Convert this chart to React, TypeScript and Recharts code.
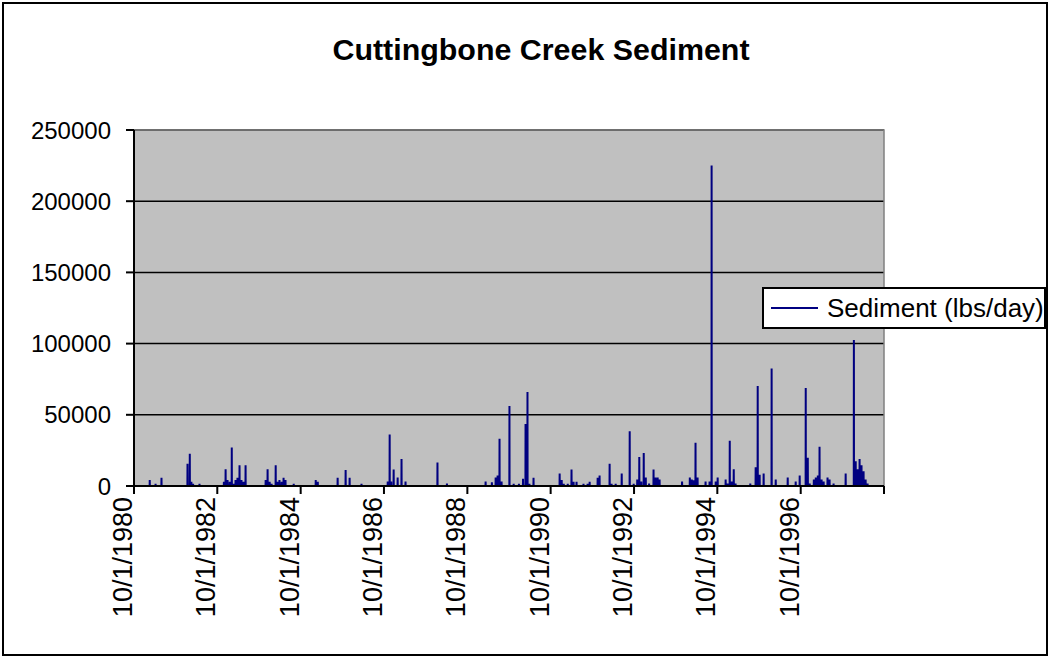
import React from 'react';
import { LineChart, Line, XAxis, YAxis, CartesianGrid, ReferenceArea, Legend } from 'recharts';

// daily sediment load, only the days that stand off the zero line
const spikeDates = [
  '1981-02-16', '1981-04-08', '1981-05-30', '1982-01-13', '1982-02-02', '1982-02-16', '1982-03-03', '1982-04-28',
  '1982-11-28', '1982-12-13', '1982-12-30', '1983-01-18', '1983-02-05', '1983-02-22', '1983-03-10', '1983-03-27',
  '1983-04-14', '1983-05-01', '1983-05-19', '1983-06-06', '1983-11-29', '1983-12-16', '1984-01-03', '1984-01-20',
  '1984-02-25', '1984-03-12', '1984-03-29', '1984-04-17', '1984-05-04', '1984-05-21', '1984-08-01', '1985-02-10',
  '1985-02-28', '1985-08-21', '1985-10-30', '1985-12-04', '1986-03-18', '1986-11-03', '1986-11-20', '1986-12-04',
  '1986-12-25', '1987-01-29', '1987-03-04', '1987-04-08', '1988-01-13', '1988-04-05', '1989-03-10', '1989-05-04',
  '1989-06-06', '1989-06-23', '1989-07-10', '1989-07-28', '1989-10-05', '1989-11-11', '1989-12-27', '1990-02-01',
  '1990-02-23', '1990-03-12', '1990-03-29', '1990-05-04', '1990-12-19', '1991-01-06', '1991-01-24', '1991-02-28',
  '1991-04-02', '1991-04-20', '1991-05-16', '1991-07-16', '1991-08-21', '1991-09-08', '1991-11-17', '1991-12-04',
  '1992-03-01', '1992-03-18', '1992-04-23', '1992-06-15', '1992-08-24', '1992-09-28', '1992-10-29', '1992-11-16',
  '1992-12-04', '1992-12-25', '1993-01-12', '1993-02-10', '1993-03-21', '1993-04-08', '1993-04-26', '1993-05-13',
  '1993-11-26', '1994-02-02', '1994-02-19', '1994-03-07', '1994-03-24', '1994-04-11', '1994-06-20', '1994-07-25',
  '1994-08-12', '1994-09-17', '1994-10-04', '1994-12-13', '1994-12-30', '1995-01-18', '1995-02-05', '1995-02-22',
  '1995-03-10', '1995-07-17', '1995-09-02', '1995-09-20', '1995-10-07', '1995-11-11', '1996-01-20', '1996-02-25',
  '1996-06-09', '1996-08-18', '1996-09-22', '1996-11-14', '1996-12-02', '1996-12-19', '1997-01-24', '1997-02-10',
  '1997-02-28', '1997-03-15', '1997-04-02', '1997-04-20', '1997-05-24', '1997-06-11', '1997-07-16', '1997-10-30',
  '1998-01-10', '1998-01-26', '1998-02-13', '1998-03-01', '1998-03-18', '1998-04-05', '1998-04-23', '1998-05-10',
];

const spikeValues = [
  4200, 1600, 5800, 15700, 22700, 3000, 1600, 1600,
  3000, 11700, 4200, 3000, 27000, 1600, 4200, 5800,
  14500, 4200, 3000, 14500, 4200, 11700, 3000, 1600,
  14500, 3000, 4200, 3000, 5800, 4200, 1600, 4200,
  3000, 5800, 11200, 5800, 1600, 3100, 36100, 3100,
  11500, 6000, 18900, 3100, 16500, 1700, 3100, 2600,
  6000, 7400, 33200, 3100, 56200, 1600, 1600, 5000,
  43500, 66000, 1600, 5800, 8700, 4200, 1600, 1600,
  11500, 3000, 3000, 1600, 1600, 3000, 5800, 7300,
  15700, 1600, 1600, 8700, 38500, 1600, 4500, 20300,
  3100, 23200, 6000, 1700, 11500, 6000, 6000, 4500,
  3100, 6000, 4500, 4000, 30400, 6000, 3100, 3100,
  225000, 3100, 6000, 4500, 1700, 31800, 3100, 11700,
  1700, 1700, 13100, 70200, 7900, 8800, 82600, 4500,
  6000, 3100, 7400, 68800, 19800, 1700, 4500, 6000,
  7400, 27500, 4500, 3100, 6000, 4500, 1700, 8800,
  102500, 17400, 11700, 18900, 14600, 10300, 4500, 1700,
];

const seriesStart = '1980-10-01';
const seriesEnd = '1998-05-31';

const axisTicks = [
  '1980-10-01', '1982-10-01', '1984-10-01', '1986-10-01', '1988-10-01',
  '1990-10-01', '1992-10-01', '1994-10-01', '1996-10-01', '1998-10-01',
];
const axisLabels = [
  '10/1/1980', '10/1/1982', '10/1/1984', '10/1/1986', '10/1/1988',
  '10/1/1990', '10/1/1992', '10/1/1994', '10/1/1996', '',
];
const yTicks = [0, 50000, 100000, 150000, 200000, 250000];

const DAY = 86400000;
const toTime = (d: string) => Date.parse(d);
const tickTimes = axisTicks.map(toTime);

// each reading sits on the zero line the day before and after
const data: { t: number; v: number }[] = [{ t: toTime(seriesStart), v: 0 }];
spikeDates.forEach((d, i) => {
  const t = toTime(d);
  data.push({ t: t - DAY, v: 0 }, { t, v: spikeValues[i] }, { t: t + DAY, v: 0 });
});
data.push({ t: toTime(seriesEnd), v: 0 });

const FONT = 'Arial, "Liberation Sans", sans-serif';

const DateTick = ({ x, y, payload }: any) => {
  const label = axisLabels[tickTimes.indexOf(payload.value)] ?? '';
  return (
    <text x={x - 2} y={y + 1} transform={`rotate(-90, ${x - 2}, ${y + 1})`} textAnchor="end" fontSize={27} fill="#000" fontFamily={FONT}>
      {label}
    </text>
  );
};

const LegendBox = () => (
  <div style={{ width: 284, height: 42, boxSizing: 'border-box', border: '2px solid #000', background: '#fff', display: 'flex', alignItems: 'center', paddingLeft: 7, fontFamily: FONT }}>
    <span style={{ display: 'inline-block', width: 47, height: 2, background: '#000080' }} />
    <span style={{ marginLeft: 9, fontSize: 26, color: '#000', whiteSpace: 'nowrap' }}>Sediment (lbs/day)</span>
  </div>
);

export default function App() {
  return (
    <div style={{ position: 'absolute', left: 0, top: 0, width: 1050, height: 660, background: '#fff', fontFamily: FONT }}>
      <div style={{ position: 'absolute', left: 2, top: 2, width: 1046, height: 654, boxSizing: 'border-box', border: '2px solid #000' }} />
      <div style={{ position: 'absolute', left: 0, top: 31, width: 1082, height: 36, lineHeight: '36px', textAlign: 'center', fontSize: 30.4, fontWeight: 'bold', color: '#000' }}>
        Cuttingbone Creek Sediment
      </div>
      <div style={{ position: 'absolute', left: 0, top: 0 }}>
        <LineChart width={1050} height={660} data={data} margin={{ top: 130, right: 166, left: 0, bottom: 24 }}>
          <CartesianGrid vertical={false} fill="#C0C0C0" stroke="#000" strokeWidth={1.5} />
          <ReferenceArea x1={tickTimes[0]} x2={tickTimes[tickTimes.length - 1]} y1={0} y2={250000} fill="none" stroke="#808080" strokeWidth={1.5} ifOverflow="visible" />
          <Line type="linear" dataKey="v" name="Sediment (lbs/day)" stroke="#000080" strokeWidth={2} dot={false} activeDot={false} isAnimationActive={false} />
          <XAxis type="number" dataKey="t" domain={[tickTimes[0], tickTimes[tickTimes.length - 1]]} ticks={tickTimes} interval={0} allowDataOverflow height={150} tickSize={8} tick={<DateTick />} axisLine={{ stroke: '#000', strokeWidth: 2 }} tickLine={{ stroke: '#000', strokeWidth: 2 }} />
          <YAxis domain={[0, 250000]} ticks={yTicks} interval={0} width={134} tickSize={8} tickMargin={15} tick={{ fill: '#000', fontSize: 24, fontFamily: FONT }} axisLine={{ stroke: '#000', strokeWidth: 2 }} tickLine={{ stroke: '#000', strokeWidth: 2 }} />
          <Legend layout="horizontal" verticalAlign="middle" align="center" content={<LegendBox />} wrapperStyle={{ position: 'absolute', left: 762, top: 287, width: 284, height: 42 }} />
        </LineChart>
      </div>
    </div>
  );
}
